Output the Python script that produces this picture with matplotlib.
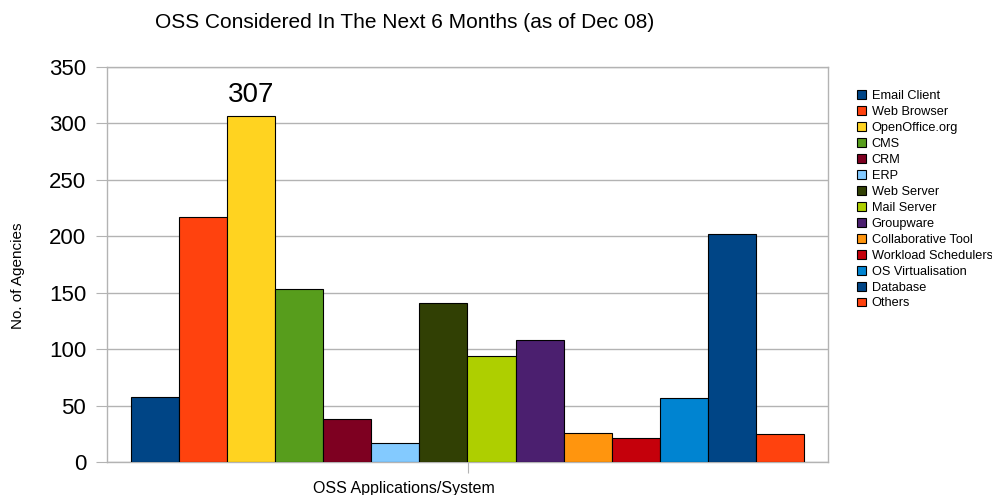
import matplotlib.pyplot as plt
from matplotlib.patches import Patch

plt.rcParams['font.family'] = ['Liberation Sans', 'DejaVu Sans']

categories = ["Email Client", "Web Browser", "OpenOffice.org", "CMS", "CRM", "ERP",
              "Web Server", "Mail Server", "Groupware", "Collaborative Tool",
              "Workload Schedulers", "OS Virtualisation", "Database", "Others"]
values = [58, 217, 307, 153, 38, 17, 141, 94, 108, 26, 21, 57, 202, 25]
colors = ["#004586", "#ff420e", "#ffd320", "#579d1c", "#7e0021", "#83caff",
          "#314004", "#aecf00", "#4b1f6f", "#ff950e", "#c5000b", "#0084d1",
          "#004586", "#ff420e"]
y_ticks = [0, 50, 100, 150, 200, 250, 300, 350]

fig = plt.figure(figsize=(9.92, 4.95), dpi=100)
ax = fig.add_axes([107 / 992, 33 / 495, 721 / 992, 395 / 495])

n = len(values)
group = 0.934
w = group / n
xs = [-group / 2 + w * (i + 0.5) for i in range(n)]
ax.bar(xs, values, width=w, color=colors, edgecolor="black", linewidth=0.8, zorder=3)

# étiquette de la barre la plus haute
imax = values.index(max(values))
ax.text(xs[imax], values[imax] + 7, str(values[imax]), ha="center", va="bottom", fontsize=20)

grid_col = "#b3b3b3"
ax.set_xlim(-0.5, 0.5)
ax.set_ylim(0, 350)
ax.set_yticks(y_ticks)
ax.set_xticks([0])
ax.set_xticklabels([""])
ax.yaxis.grid(True, color=grid_col, linewidth=1, zorder=0)
ax.tick_params(axis="y", labelsize=16, length=8, color=grid_col, pad=7)
ax.tick_params(axis="x", length=8, color=grid_col)
for s in ax.spines.values():
    s.set_color(grid_col)
    s.set_linewidth(1)

fig.text(18 / 992, 1 - 276 / 495, "No. of Agencies", rotation=90, ha="center", va="center", fontsize=11)
fig.text(404 / 992, 1 - 488 / 495, "OSS Applications/System", ha="center", va="center", fontsize=11.5)
fig.text(405 / 992, 1 - 22 / 495, "OSS Considered In The Next 6 Months (as of Dec 08)",
         ha="center", va="center", fontsize=15)

handles = [Patch(facecolor=c, edgecolor="black", linewidth=0.8) for c in colors]
fig.legend(handles, categories, loc="upper left", bbox_to_anchor=(857 / 992, 1 - 90 / 495),
           frameon=False, fontsize=9.2, handlelength=0.7, handleheight=0.7,
           handletextpad=0.45, labelspacing=0.31, borderpad=0, borderaxespad=0)

fig.savefig("out.png", dpi=100)
